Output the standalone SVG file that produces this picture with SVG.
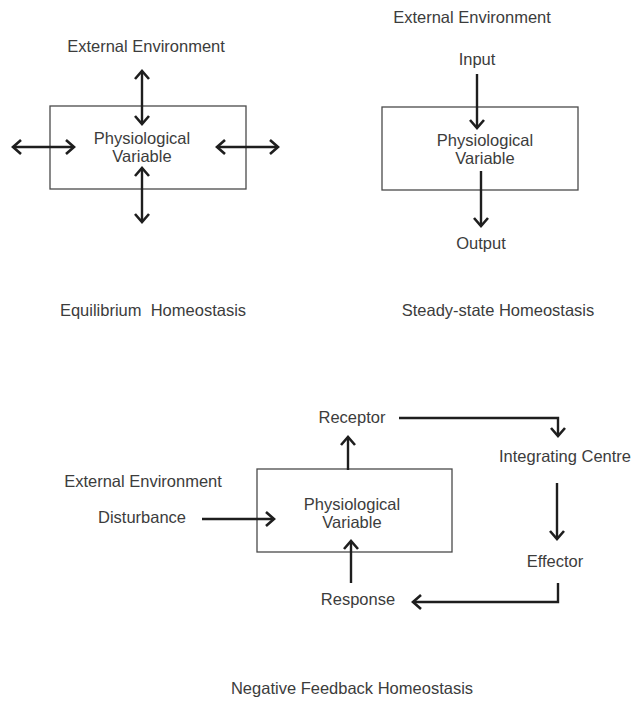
<svg xmlns="http://www.w3.org/2000/svg" width="636" height="706" viewBox="0 0 636 706">
<defs>
<style>
text{font-family:"Liberation Sans",Arial,sans-serif;font-size:16.5px;fill:#3c3c3c;text-anchor:middle}
.box{fill:none;stroke:#4a4a4a;stroke-width:1.3}
.ar{fill:none;stroke:#1e1e1e;stroke-width:2.4}
</style>
<marker id="ah" markerUnits="userSpaceOnUse" markerWidth="20" markerHeight="20" viewBox="-10 -10 20 20" refX="0" refY="0" orient="auto-start-reverse">
<path d="M-8,-7 L0,0 L-8,7" fill="none" stroke="#1e1e1e" stroke-width="2.6" stroke-linejoin="miter"/>
</marker>
</defs>
<rect width="636" height="706" fill="#fff"/>

<g id="d1-variable"><rect class="box" x="50" y="106" width="196" height="83"/><text x="142" y="144">Physiological</text><text x="142" y="162">Variable</text></g>
<g id="d1-env"><text x="146" y="52">External Environment</text></g>
<g id="d1-title"><text x="153" y="316">Equilibrium&#160; Homeostasis</text></g>

<g id="d2-variable"><rect class="box" x="382" y="107" width="196" height="83"/><text x="485" y="146">Physiological</text><text x="485" y="164">Variable</text></g>
<g id="d2-env"><text x="472" y="23">External Environment</text></g>
<g id="d2-input"><text x="477" y="65">Input</text></g>
<g id="d2-output"><text x="481" y="249">Output</text></g>
<g id="d2-title"><text x="498" y="316">Steady-state Homeostasis</text></g>

<g id="d3-variable"><rect class="box" x="257" y="469" width="195" height="83"/><text x="352" y="510">Physiological</text><text x="352" y="528">Variable</text></g>
<g id="d3-env"><text x="143" y="487">External Environment</text></g>
<g id="d3-disturbance"><text x="142" y="523">Disturbance</text></g>
<g id="d3-receptor"><text x="352" y="423">Receptor</text></g>
<g id="d3-integrating"><text x="565" y="462">Integrating Centre</text></g>
<g id="d3-effector"><text x="555" y="567">Effector</text></g>
<g id="d3-response"><text x="358" y="605">Response</text></g>
<g id="d3-title"><text x="352" y="694">Negative Feedback Homeostasis</text></g>

<g id="connectors">
<line class="ar" x1="142" y1="71" x2="142" y2="124" marker-start="url(#ah)" marker-end="url(#ah)"/>
<line class="ar" x1="142" y1="168" x2="142" y2="222" marker-start="url(#ah)" marker-end="url(#ah)"/>
<line class="ar" x1="13" y1="147" x2="74" y2="147" marker-start="url(#ah)" marker-end="url(#ah)"/>
<line class="ar" x1="217" y1="147" x2="278" y2="147" marker-start="url(#ah)" marker-end="url(#ah)"/>
<line class="ar" x1="477" y1="74" x2="477" y2="128" marker-end="url(#ah)"/>
<line class="ar" x1="481" y1="171" x2="481" y2="226" marker-end="url(#ah)"/>
<line class="ar" x1="202" y1="519" x2="274" y2="519" marker-end="url(#ah)"/>
<line class="ar" x1="348" y1="470" x2="348" y2="437" marker-end="url(#ah)"/>
<polyline class="ar" points="399,418 558,418 558,436" marker-end="url(#ah)"/>
<line class="ar" x1="557" y1="483" x2="557" y2="539" marker-end="url(#ah)"/>
<polyline class="ar" points="558,583 558,602 413,602" marker-end="url(#ah)"/>
<line class="ar" x1="351" y1="583" x2="351" y2="541" marker-end="url(#ah)"/>
</g>
</svg>
